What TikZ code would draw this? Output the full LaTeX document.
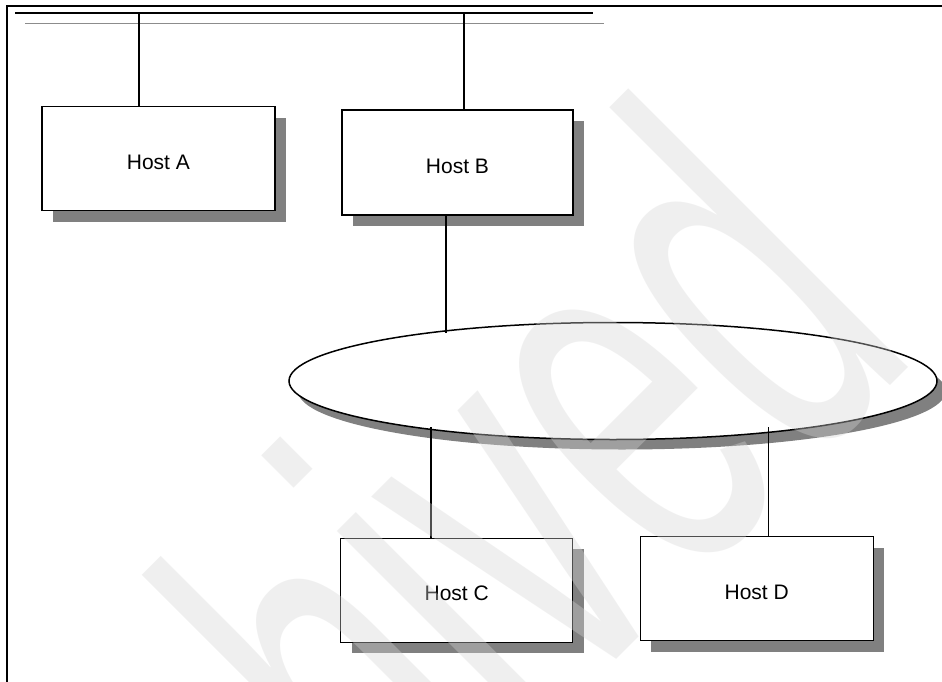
\documentclass[tikz,border=0pt]{standalone}
\usepackage{fontspec}
\setmainfont{Liberation Sans}
\usepackage{graphicx}
\usetikzlibrary{shapes.geometric,shadows}
\definecolor{shadowgray}{RGB}{128,128,128}
\definecolor{busgray}{RGB}{140,140,140}
\definecolor{wmgray}{RGB}{214,214,214}
\begin{document}
\begin{tikzpicture}[x=1pt,y=-1pt,
  hostbox/.style={draw=black, line width=1.4pt, fill=white, minimum width=232pt,
    minimum height=104pt, inner sep=0pt, text height=21pt, text depth=0pt,
    font=\fontsize{21}{24}\selectfont,
    drop shadow={shadow xshift=11pt, shadow yshift=-11pt, fill=shadowgray, opacity=1}},
  wire/.style={line width=1.2pt, draw=black},
  netshape/.style={ellipse, draw=black, line width=1.5pt, fill=white,
    minimum width=648pt, minimum height=117pt, inner sep=0pt,
    drop shadow={shadow xshift=9pt, shadow yshift=-10pt, fill=shadowgray, opacity=1}},
  watermark/.style={rotate=45, anchor=base east, inner sep=0pt, text=wmgray, text opacity=0.37}
]
\useasboundingbox (0,0) rectangle (942,682);
\fill[white] (0,0) rectangle (942,682);

% frame
\coordinate (frBL) at (7,682);
\coordinate (frTL) at (7,6);
\coordinate (frTR) at (942,6);
\draw[line width=1.3pt] (frBL) -- (frTL) -- (frTR);

% bus lines
\coordinate (busL) at (15,13);
\coordinate (busR) at (593,13);
\coordinate (gbusL) at (25,23.5);
\coordinate (gbusR) at (604,23.5);
\draw[line width=1.6pt] (busL) -- (busR);
\draw[line width=1.6pt, busgray] (gbusL) -- (gbusR);

% hosts
\node[hostbox, minimum width=233pt] (hostA) at (158.4,158.7) {Host A};
\node[hostbox, minimum width=231pt, minimum height=105pt] (hostB) at (457.5,162.5) {Host B};
\node[netshape] (net) at (613,381) {};
\node[hostbox] (hostC) at (456.7,590.2) {Host C};
\node[hostbox, minimum width=233pt] (hostD) at (756.7,588.7) {Host D};

% connectors
\coordinate (tapA) at (139,12.5);
\coordinate (tapB) at (464,12.5);
\draw[wire] (tapA) -- (tapA |- hostA.north);
\draw[wire] (tapB) -- (tapB |- hostB.north);
\coordinate (bOut) at (446,332.5);
\draw[wire] (bOut |- hostB.south) -- (bOut);
\coordinate (cIn) at (431,427);
\draw[wire] (cIn) -- (cIn |- hostC.north);
\coordinate (dIn) at (768.7,427);
\draw[wire] (dIn) -- (dIn |- hostD.north);

% watermark
\node[watermark] (wm) at (923,353) {\scalebox{0.56}[1]{\fontsize{545}{545}\selectfont Archived}};
\end{tikzpicture}
\end{document}
